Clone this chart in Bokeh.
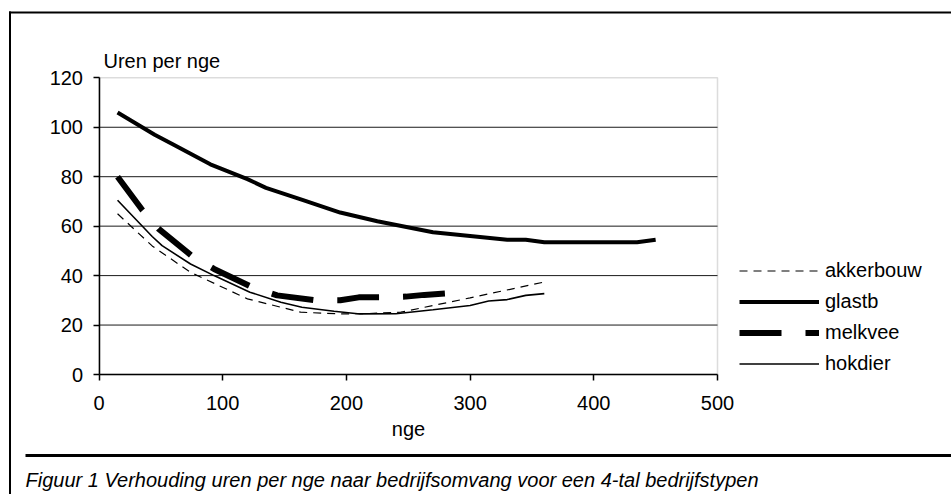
from bokeh.plotting import figure
from bokeh.models import (Range1d, LinearAxis, FixedTicker, BoxAnnotation, Label,
                          Legend, LegendItem, Grid)
from bokeh.embed import file_html
from bokeh.resources import INLINE

# ---------------- data ----------------
nge_akkerbouw = [15, 43, 74, 120, 163, 195, 215, 244, 300, 360]
uren_akkerbouw = [65, 52, 41.3, 30.6, 25.2, 24.5, 24.6, 25.2, 31, 37.4]

nge_glastb = [15, 45, 60, 90, 120, 135, 165, 195, 225, 270, 300, 330, 345, 360, 435, 450]
uren_glastb = [106, 97, 93, 85, 79, 75.5, 70.5, 65.5, 62, 57.5, 56, 54.5, 54.5, 53.5, 53.5, 54.5]

nge_melkvee = [15, 35, 48, 75, 93, 124, 144, 176, 195, 210, 229, 248, 263, 282]
uren_melkvee = [80, 66.5, 59, 48, 42.7, 35.3, 32, 30, 30, 31.2, 31.2, 31.5, 32.2, 32.8]

nge_hokdier = [15, 43, 51, 74, 93, 122, 147, 164, 190, 211, 240, 270, 300, 315, 330, 345, 360]
uren_hokdier = [70.5, 55.8, 52.1, 44.7, 40, 33.3, 29.2, 27.2, 25.6, 24.5, 24.6, 26.2, 27.9, 29.7, 30.3, 32, 32.7]

series_names = ["akkerbouw", "glastb", "melkvee", "hokdier"]
x_ticks = [0, 100, 200, 300, 400, 500]
y_ticks = [0, 20, 40, 60, 80, 100, 120]
x_title = "nge"
y_title = "Uren per nge"
caption = "Figuur 1 Verhouding uren per nge naar bedrijfsomvang voor een 4-tal bedrijfstypen"

# ---------------- layout helpers ----------------
FONT = "Liberation Sans"
W, H = 951, 494
X0, SX = 98.5, 1.237     # canvas px of x=0, px per unit
Y0, SY = 374.0, 2.4725   # canvas px of y=0 (from top), px per unit


def px_x(px):
    return (px - X0) / SX


def px_y(py):
    return (Y0 - py) / SY


p = figure(width=W, height=H, title=None,
           x_range=Range1d(px_x(0), px_x(W)), y_range=Range1d(px_y(H), px_y(0)),
           x_axis_location=None, y_axis_location=None,
           toolbar_location=None, output_backend="svg",
           min_border=0, min_border_left=0, min_border_right=0,
           min_border_top=0, min_border_bottom=0)
p.outline_line_color = None
p.background_fill_color = "white"
p.border_fill_color = "white"
p.center = [r for r in p.center if not isinstance(r, Grid)]


def strip(l, r, t, b):
    p.add_layout(BoxAnnotation(left=px_x(l), right=px_x(r), top=px_y(t), bottom=px_y(b),
                               fill_color="black", fill_alpha=1, line_color=None,
                               level="underlay"))


# outer frame (left + top) and caption separator
strip(8.5, 10.5, 11, H - 0.5)
strip(8.5, W - 0.5, 11, 13)
strip(25, W - 0.5, 453.5, 456.5)

# plot area border (grey top/right)
p.add_layout(BoxAnnotation(left=x_ticks[0], right=x_ticks[-1], bottom=y_ticks[0], top=y_ticks[-1],
                           fill_color=None, fill_alpha=0, line_color="#8a8a8a", line_width=1.5,
                           level="underlay"))

# horizontal grid lines
grid_vals = y_ticks[1:-1]
p.segment(x0=[x_ticks[0]] * len(grid_vals), x1=[x_ticks[-1]] * len(grid_vals),
          y0=grid_vals, y1=grid_vals, line_color="#1a1a1a", line_width=1)

# axes
xaxis = LinearAxis(fixed_location=0, bounds=(x_ticks[0], x_ticks[-1]),
                   ticker=FixedTicker(ticks=x_ticks, minor_ticks=[]), axis_label=x_title)
yaxis = LinearAxis(fixed_location=0, bounds=(y_ticks[0], y_ticks[-1]),
                   ticker=FixedTicker(ticks=y_ticks, minor_ticks=[]))
for ax in (xaxis, yaxis):
    ax.axis_line_color = "black"
    ax.axis_line_width = 1.5
    ax.major_tick_line_color = "black"
    ax.major_tick_line_width = 1.5
    ax.major_tick_out = 6
    ax.major_tick_in = 0
    ax.minor_tick_out = 0
    ax.minor_tick_in = 0
    ax.major_label_text_font = FONT
    ax.major_label_text_font_size = "20px"
    ax.major_label_text_color = "black"
    ax.axis_label_text_font = FONT
    ax.axis_label_text_font_size = "20px"
    ax.axis_label_text_font_style = "normal"
    ax.axis_label_text_color = "black"
xaxis.major_label_standoff = 15
xaxis.axis_label_standoff = 5
yaxis.major_label_standoff = 10
p.add_layout(xaxis, "below")
p.add_layout(yaxis, "left")

# series
r_akker = p.line(nge_akkerbouw, uren_akkerbouw, line_color="black", line_width=1.2, line_dash="8 6")
r_glas = p.line(nge_glastb, uren_glastb, line_color="black", line_width=4, line_join="round")
r_melk = p.line(nge_melkvee, uren_melkvee, line_color="black", line_width=6, line_dash="42 24")
r_hok = p.line(nge_hokdier, uren_hokdier, line_color="black", line_width=1.6)

legend = Legend(items=[LegendItem(label=n, renderers=[r]) for n, r in
                       zip(series_names, [r_akker, r_glas, r_melk, r_hok])],
                location=(739, H - 375), orientation="vertical",
                glyph_width=80, glyph_height=23, label_height=23, spacing=8,
                label_standoff=6, padding=0, margin=0,
                border_line_color=None, background_fill_alpha=0,
                label_text_font=FONT, label_text_font_size="20px", label_text_color="black")
p.add_layout(legend)

# y title and caption
p.add_layout(Label(x=px_x(103), y=px_y(60), text=y_title, text_font=FONT,
                   text_font_size="20px", text_color="black", text_baseline="alphabetic"))
p.add_layout(Label(x=px_x(25), y=px_y(479), text=caption, text_font=FONT,
                   text_font_size="20px", text_font_style="italic", text_color="black",
                   text_baseline="alphabetic"))

open("out.html", "w").write(file_html(p, INLINE))
